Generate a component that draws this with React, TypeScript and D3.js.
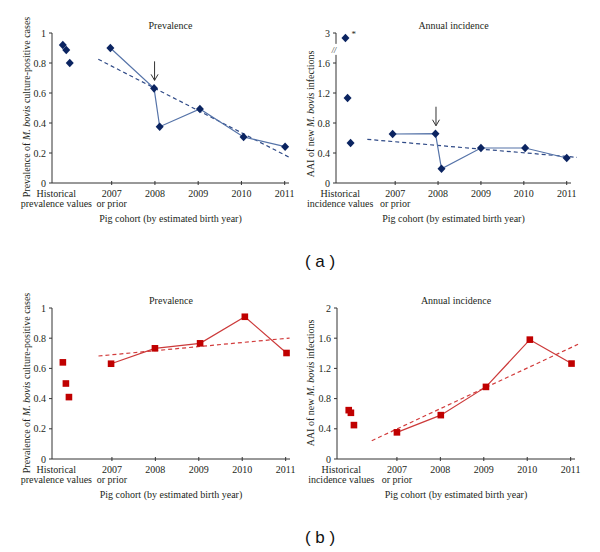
import React from "react";
import * as d3 from "d3";

// ---------- data ----------
const tickYears = [2007, 2008, 2009, 2010, 2011];
const tickYearLabels = ["2007", "2008", "2009", "2010", "2011"];

// (a) prevalence
const aPrevHistX = [2005.87, 2005.95, 2006.03];
const aPrevHist = [0.92, 0.887, 0.8];
const aPrevX = [2006.97, 2007.98, 2008.11, 2009.04, 2010.05, 2011.01];
const aPrev = [0.9, 0.631, 0.375, 0.493, 0.307, 0.242];
const aPrevTrendX = [2006.69, 2011.15];
const aPrevTrend = [0.825, 0.165];

// (a) annual incidence (top value off-scale, marked with *)
const aIncHistX = [2005.84, 2005.89, 2005.96];
const aIncHist = [2.8, 1.133, 0.533];
const aIncX = [2006.94, 2007.94, 2008.08, 2009.0, 2010.03, 2011.0];
const aInc = [0.653, 0.657, 0.19, 0.467, 0.467, 0.333];
const aIncTrendX = [2006.35, 2011.24];
const aIncTrend = [0.582, 0.342];

// (b) prevalence
const bPrevHistX = [2005.87, 2005.94, 2006.01];
const bPrevHist = [0.64, 0.5, 0.41];
const bPrevX = [2006.98, 2007.99, 2009.03, 2010.06, 2011.02];
const bPrev = [0.631, 0.733, 0.766, 0.942, 0.702];
const bPrevTrendX = [2006.69, 2011.09];
const bPrevTrend = [0.682, 0.801];

// (b) annual incidence
const bIncHistX = [2005.89, 2005.94, 2006.01];
const bIncHist = [0.647, 0.612, 0.449];
const bIncX = [2007.0, 2008.01, 2009.05, 2010.06, 2011.02];
const bInc = [0.353, 0.581, 0.955, 1.581, 1.264];
const bIncTrendX = [2006.42, 2011.17];
const bIncTrend = [0.242, 1.519];

const prevTicks = [0, 0.2, 0.4, 0.6, 0.8, 1];
const prevTickLabels = ["0", "0.2", "0.4", "0.6", "0.8", "1"];
const aIncTicks = [0, 0.4, 0.8, 1.2, 1.6, 3];
const aIncTickLabels = ["0", "0.4", "0.8", "1.2", "1.6", "3"];
const bIncTicks = [0, 0.4, 0.8, 1.2, 1.6, 2];
const bIncTickLabels = ["0", "0.4", "0.8", "1.2", "1.6", "2"];

const xDomain = [2005.62, 2011.1];
const histLabelX = 2005.72;

// ---------- style ----------
const SERIF = "'Liberation Serif', 'Times New Roman', serif";
const FS = 10;
const BLUE_MARK = "#0b2461";
const BLUE_LINE = "#5573a8";
const BLUE_DASH = "#2f4a87";
const RED_MARK = "#c00000";
const RED_LINE = "#cc3a3a";
const RED_DASH = "#d23c3c";

type PanelProps = {
  left: number;
  right: number;
  top: number;
  bottom: number;
  title: string;
  yLabelParts: [string, string, string];
  yLabelX: number;
  yLabelY: number;
  yScale: d3.ScaleLinear<number, number>;
  ticks: number[];
  tickLabels: string[];
  histX: number[];
  hist: number[];
  xs: number[];
  ys: number[];
  trendX: number[];
  trend: number[];
  red: boolean;
  histLine2: string;
  arrowAt?: number;
  broken?: boolean;
};

function Panel(p: PanelProps) {
  const x = d3.scaleLinear().domain(xDomain).range([p.left, p.right]);
  const y = p.yScale;
  const line = d3
    .line<[number, number]>()
    .x((d) => x(d[0]))
    .y((d) => y(d[1]));
  const pts: [number, number][] = p.xs.map((v, i) => [v, p.ys[i]]);
  const trendPts: [number, number][] = p.trendX.map((v, i) => [v, p.trend[i]]);
  const markColor = p.red ? RED_MARK : BLUE_MARK;
  const lineColor = p.red ? RED_LINE : BLUE_LINE;
  const dashColor = p.red ? RED_DASH : BLUE_DASH;
  const y0 = y(0);
  const yTop = y(p.ticks[p.ticks.length - 1]);

  const marker = (cx: number, cy: number, key: string) =>
    p.red ? (
      <rect key={key} x={cx - 3.3} y={cy - 3.3} width={6.6} height={6.6} fill={markColor} />
    ) : (
      <path
        key={key}
        d={`M${cx},${cy - 4.3}L${cx + 4},${cy}L${cx},${cy + 4.3}L${cx - 4},${cy}Z`}
        fill={markColor}
      />
    );

  const cx = (p.left + p.right) / 2;
  const breakY = p.broken ? y(2.3) : 0;

  let arrow = null;
  if (p.arrowAt !== undefined) {
    const idx = p.arrowAt;
    const ax = x(p.xs[idx]) + 0.5;
    const aEnd = y(p.ys[idx]) - 8;
    const aStart = aEnd - 19;
    arrow = (
      <g stroke="#333" strokeWidth={1} fill="none">
        <line x1={ax} y1={aStart} x2={ax} y2={aEnd} />
        <path d={`M${ax - 3.5},${aEnd - 6}L${ax},${aEnd}L${ax + 3.5},${aEnd - 6}`} />
      </g>
    );
  }

  return (
    <g fontFamily={SERIF} fill="#231f20">
      <text x={cx} y={p.top - 4} textAnchor="middle" fontSize={FS}>
        {p.title}
      </text>
      {p.broken ? (
        <g stroke="#333" strokeWidth={1}>
          <line x1={p.left} x2={p.left} y1={y0} y2={breakY + 5} />
          <line x1={p.left} x2={p.left} y1={breakY - 6} y2={yTop} />
        </g>
      ) : (
        <line x1={p.left} x2={p.left} y1={y0} y2={yTop} stroke="#333" strokeWidth={1} />
      )}
      {p.broken && (
        <text x={p.left - 2} y={breakY + 3} fontSize={8} fontStyle="italic" textAnchor="middle">
          //
        </text>
      )}
      {p.ticks.map((t, i) => (
        <g key={"yt" + i}>
          <line x1={p.left - 3} x2={p.left} y1={y(t)} y2={y(t)} stroke="#333" strokeWidth={1} />
          <text x={p.left - 6} y={y(t) + 3.5} textAnchor="end" fontSize={FS}>
            {p.tickLabels[i]}
          </text>
        </g>
      ))}
      <line x1={p.left} x2={p.right} y1={y0} y2={y0} stroke="#333" strokeWidth={1} />
      {tickYears.map((t, i) => (
        <g key={"xt" + i}>
          <line x1={x(t)} x2={x(t)} y1={y0 - 2} y2={y0 + 2} stroke="#333" strokeWidth={1} />
          <text x={x(t)} y={y0 + 14} textAnchor="middle" fontSize={FS}>
            {tickYearLabels[i]}
          </text>
        </g>
      ))}
      <text x={x(histLabelX)} y={y0 + 14} textAnchor="middle" fontSize={FS}>
        Historical
      </text>
      <text x={x(histLabelX)} y={y0 + 23.5} textAnchor="middle" fontSize={FS}>
        {p.histLine2}
      </text>
      <text x={x(2007)} y={y0 + 23.5} textAnchor="middle" fontSize={FS}>
        or prior
      </text>
      <text x={cx} y={y0 + 38.5} textAnchor="middle" fontSize={FS}>
        Pig cohort (by estimated birth year)
      </text>
      <text
        transform={`translate(${p.yLabelX},${p.yLabelY}) rotate(-90)`}
        textAnchor="middle"
        fontSize={FS}
      >
        {p.yLabelParts[0]}
        <tspan fontStyle="italic">{p.yLabelParts[1]}</tspan>
        {p.yLabelParts[2]}
      </text>
      <path
        d={line(trendPts) || ""}
        fill="none"
        stroke={dashColor}
        strokeWidth={1.2}
        strokeDasharray="4,3"
      />
      <path d={line(pts) || ""} fill="none" stroke={lineColor} strokeWidth={1.2} />
      {pts.map((d, i) => marker(x(d[0]), y(d[1]), "m" + i))}
      {p.histX.map((v, i) => marker(x(v), y(p.hist[i]), "h" + i))}
      {p.broken && (
        <text x={x(p.histX[0]) + 6} y={y(p.hist[0]) - 1} fontSize={9}>
          *
        </text>
      )}
      {arrow}
    </g>
  );
}

export default function App() {
  const yPrevA = d3.scaleLinear().domain([0, 1]).range([183, 33]);
  const yIncA = d3.scaleLinear().domain([0, 1.6, 2.4, 3]).range([183, 63, 48, 33]);
  const yPrevB = d3.scaleLinear().domain([0, 1]).range([459, 308]);
  const yIncB = d3.scaleLinear().domain([0, 2]).range([459, 308]);

  return (
    <svg
      width={600}
      height={552}
      style={{ position: "absolute", left: 0, top: 0, background: "#fff" }}
    >
      <rect width={600} height={552} fill="#fff" />
      <Panel
        left={52}
        right={289}
        top={33}
        bottom={183}
        title="Prevalence"
        yLabelParts={["Prevalence of ", "M. bovis", " culture-positive cases"]}
        yLabelX={30}
        yLabelY={107}
        yScale={yPrevA}
        ticks={prevTicks}
        tickLabels={prevTickLabels}
        histX={aPrevHistX}
        hist={aPrevHist}
        xs={aPrevX}
        ys={aPrev}
        trendX={aPrevTrendX}
        trend={aPrevTrend}
        red={false}
        histLine2="prevalence values"
        arrowAt={1}
      />
      <Panel
        left={336}
        right={571}
        top={33}
        bottom={183}
        title="Annual incidence"
        yLabelParts={["AAI of new ", "M. bovis", " infections"]}
        yLabelX={314}
        yLabelY={114}
        yScale={yIncA}
        ticks={aIncTicks}
        tickLabels={aIncTickLabels}
        histX={aIncHistX}
        hist={aIncHist}
        xs={aIncX}
        ys={aInc}
        trendX={aIncTrendX}
        trend={aIncTrend}
        red={false}
        histLine2="incidence values"
        arrowAt={1}
        broken={true}
      />
      <Panel
        left={52}
        right={290}
        top={308}
        bottom={459}
        title="Prevalence"
        yLabelParts={["Prevalence of ", "M. bovis", " culture-positive cases"]}
        yLabelX={30}
        yLabelY={383}
        yScale={yPrevB}
        ticks={prevTicks}
        tickLabels={prevTickLabels}
        histX={bPrevHistX}
        hist={bPrevHist}
        xs={bPrevX}
        ys={bPrev}
        trendX={bPrevTrendX}
        trend={bPrevTrend}
        red={true}
        histLine2="prevalence values"
      />
      <Panel
        left={337}
        right={575}
        top={308}
        bottom={459}
        title="Annual incidence"
        yLabelParts={["AAI of new ", "M. bovis", " infections"]}
        yLabelX={314}
        yLabelY={383}
        yScale={yIncB}
        ticks={bIncTicks}
        tickLabels={bIncTickLabels}
        histX={bIncHistX}
        hist={bIncHist}
        xs={bIncX}
        ys={bInc}
        trendX={bIncTrendX}
        trend={bIncTrend}
        red={true}
        histLine2="incidence values"
      />
      <text x={320} y={267} textAnchor="middle" fontSize={17} fontFamily="'Liberation Sans', Arial, sans-serif" fill="#111">
        ( a )
      </text>
      <text x={320} y={543} textAnchor="middle" fontSize={17} fontFamily="'Liberation Sans', Arial, sans-serif" fill="#111">
        ( b )
      </text>
    </svg>
  );
}
